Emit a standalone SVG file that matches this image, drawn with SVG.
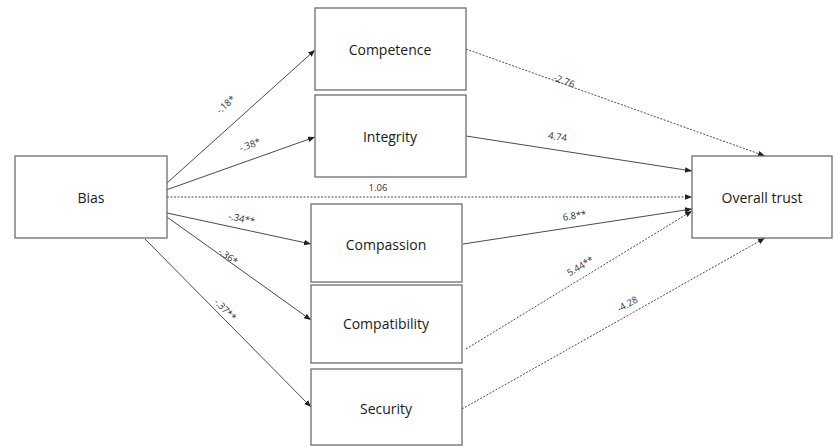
<svg xmlns="http://www.w3.org/2000/svg" width="834" height="447" viewBox="0 0 834 447">
<style>
.box{fill:#fff;stroke:#6e6e6e;stroke-width:1.3}
.nt{font-family:"Open Sans","Liberation Sans",sans-serif;font-size:14px;fill:#1a1a1a;text-anchor:middle;dominant-baseline:central}
.e{stroke:#4a4a4a;stroke-width:1;fill:none;marker-end:url(#ah)}
.d{stroke-dasharray:2,1.5}
.lb{font-family:"Open Sans","Liberation Sans",sans-serif;font-size:9.5px;fill:#333;text-anchor:middle}
</style>
<defs>
<marker id="ah" viewBox="0 0 10 10" refX="10" refY="5" markerWidth="7" markerHeight="7" markerUnits="userSpaceOnUse" orient="auto">
<path d="M0,1 L10,5 L0,9 z" fill="#222"/>
</marker>
</defs>
<rect width="834" height="447" fill="#fff"/>
<g id="connectors">
<line class="e" x1="167" y1="183" x2="315" y2="50"/>
<line class="e" x1="166" y1="190" x2="315" y2="137"/>
<line class="e d" x1="167" y1="197" x2="692" y2="197"/>
<line class="e" x1="167" y1="213" x2="311" y2="244"/>
<line class="e" x1="167" y1="217" x2="311" y2="320"/>
<line class="e" x1="145" y1="239" x2="311" y2="407"/>
<line class="e d" x1="466" y1="49" x2="765" y2="156"/>
<line class="e" x1="466" y1="136" x2="692" y2="171"/>
<line class="e" x1="463" y1="244" x2="692" y2="209"/>
<line class="e d" x1="466" y1="349" x2="692" y2="211"/>
<line class="e d" x1="462" y1="409" x2="765" y2="238"/>
<text class="lb" transform="translate(228,107) rotate(-42)">-.18*</text>
<text class="lb" transform="translate(251,148) rotate(-20)">-.38*</text>
<text class="lb" x="378" y="191">1.06</text>
<text class="lb" transform="translate(241,222) rotate(12)">-.34**</text>
<text class="lb" transform="translate(226,259) rotate(36)">-.36*</text>
<text class="lb" transform="translate(223,312) rotate(45)">-.37**</text>
<text class="lb" transform="translate(563,84) rotate(20)">-2.76</text>
<text class="lb" transform="translate(557,140) rotate(9)">4.74</text>
<text class="lb" transform="translate(575,219) rotate(-8)">6.8**</text>
<text class="lb" transform="translate(582,269) rotate(-31)">5.44**</text>
<text class="lb" transform="translate(629,307) rotate(-29)">-4.28</text>
</g>
<g id="bias"><rect class="box" x="15" y="156" width="152" height="82"/><text class="nt" x="91" y="197">Bias</text></g>
<g id="competence"><rect class="box" x="315" y="8" width="151" height="82"/><text class="nt" x="390" y="49">Competence</text></g>
<g id="integrity"><rect class="box" x="315" y="95" width="151" height="82"/><text class="nt" x="390" y="136">Integrity</text></g>
<g id="compassion"><rect class="box" x="311" y="204" width="151" height="78"/><text class="nt" x="386" y="244">Compassion</text></g>
<g id="compatibility"><rect class="box" x="311" y="285" width="151" height="78"/><text class="nt" x="386" y="323">Compatibility</text></g>
<g id="security"><rect class="box" x="311" y="369" width="151" height="76"/><text class="nt" x="386" y="408">Security</text></g>
<g id="overall"><rect class="box" x="692" y="156" width="140" height="82"/><text class="nt" x="762" y="197">Overall trust</text></g>
</svg>
